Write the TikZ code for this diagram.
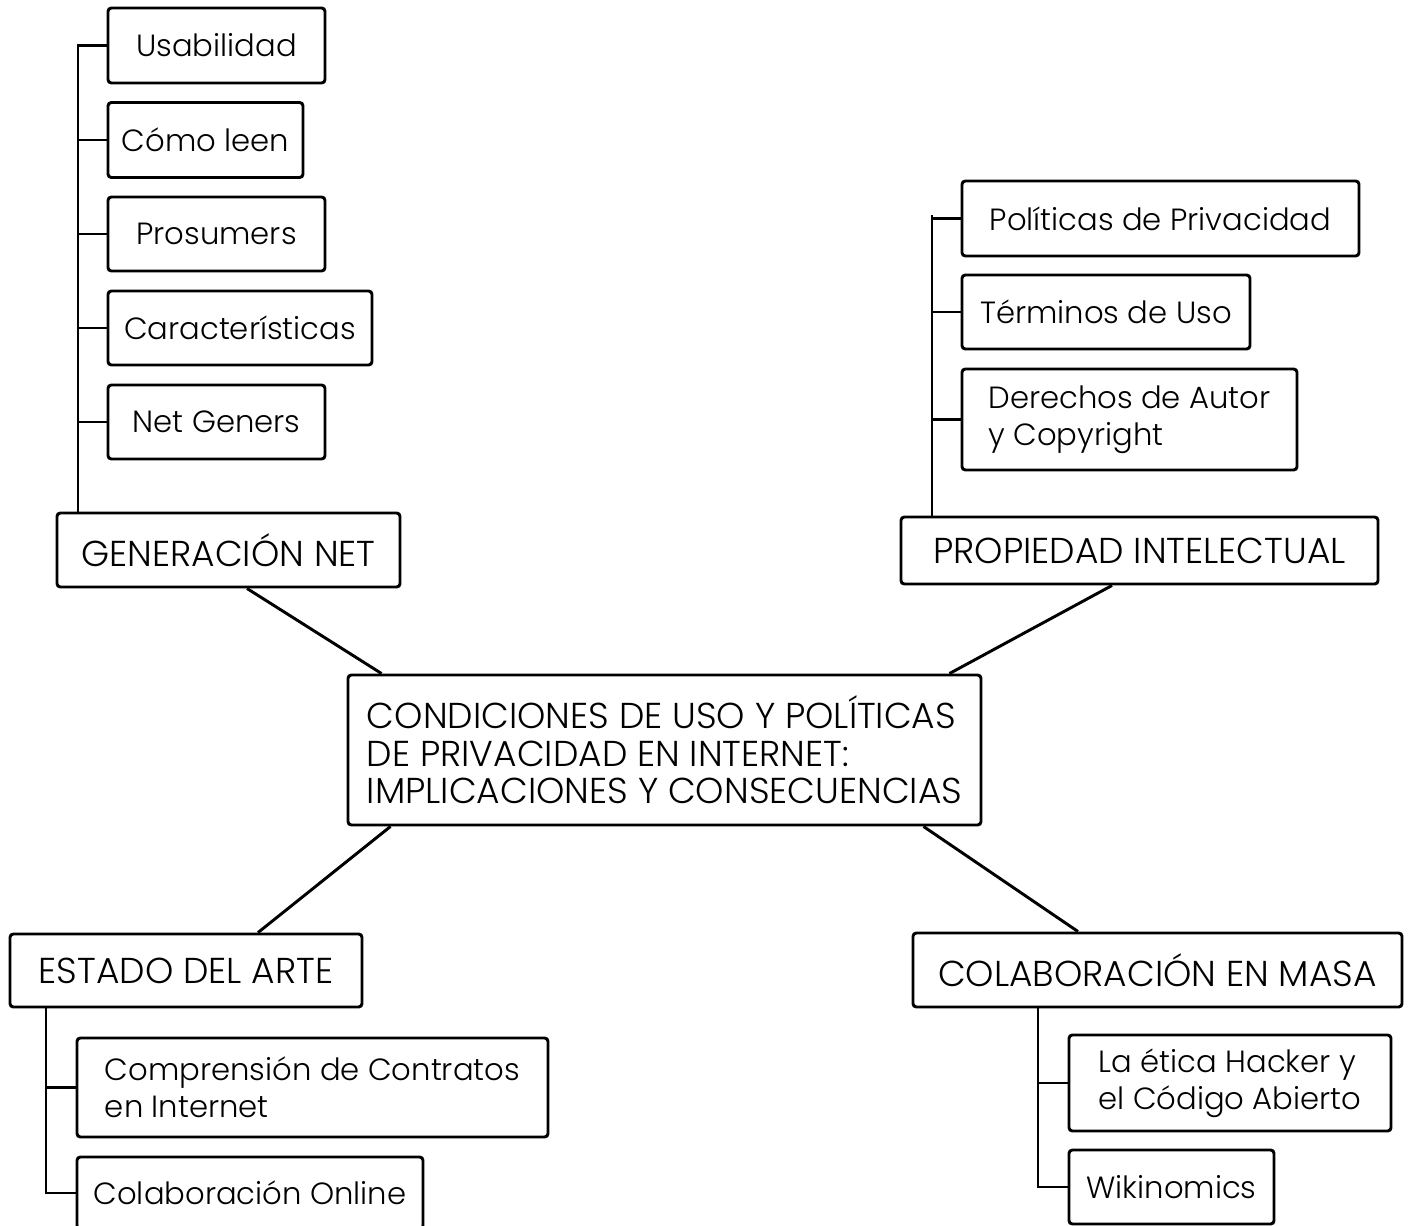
\documentclass[tikz,border=0pt]{standalone}
\usepackage{fontspec}
\setmainfont{Poppins}[UprightFont=* Light]
\usetikzlibrary{calc}

\tikzset{every picture/.style={line width=2.2pt}}
\tikzset{caja/.style 2 args={draw, rounded corners=2.5pt, inner sep=0.75pt, align=left,
  minimum width=#1*0.75pt, minimum height=#2*0.75pt, font=\fontsize{23}{28}\selectfont},
  tema/.style={font=\fontsize{27}{28}\selectfont}}

\begin{document}
\begin{tikzpicture}[x=0.75pt,y=0.75pt,yscale=-1,xscale=1]
        \useasboundingbox (0,0) rectangle (1408,1226);
        %Text Node Center
        \node [caja={633}{150}, tema] (cent) at (664.5,750) {CONDICIONES DE USO Y POLÍTICAS\\DE PRIVACIDAD EN INTERNET:\\IMPLICACIONES Y CONSECUENCIAS};
        % Text Node
        \node [caja={343}{74}, tema] (gen) at (228.5,550) {GENERACIÓN NET};
        % Text Node
        \node [caja={477}{67}, tema] (pi) at (1139.5,550.5) {PROPIEDAD INTELECTUAL};
        % Text Node
        \node [caja={352}{73}, tema] (est) at (186,970.5) {ESTADO DEL ARTE};
        % Text Node
        \node [caja={489}{74}, tema] (masa) at (1157.5,970) {COLABORACIÓN EN MASA};

        % Text Node
        \node [caja={217}{75}] (usab) at (216.5,45.5) {Usabilidad};
        % Text Node
        \node [caja={195}{75}] (como) at (205.5,140) {Cómo leen};
        % Text Node
        \node [caja={217}{74}] (pros) at (216.5,234) {Prosumers};
        % Text Node
        \node [caja={264}{74}] (cara) at (240,328) {Características};
        % Text Node
        \node [caja={217}{74}] (netg) at (216.5,422) {Net Geners};

        % Text Node
        \node [caja={397}{75}] (pol) at (1160.5,218.5) {Políticas de Privacidad};
        % Text Node
        \node [caja={288}{74}] (term) at (1106,312) {Términos de Uso};
        % Text Node
        \node [caja={335}{101}] (dere) at (1129.5,419.5) {Derechos de Autor\\y Copyright};

        % Text Node
        \node [caja={471}{99}] (comp) at (312.5,1087.5) {Comprensión de Contratos\\en Internet};
        % Text Node
        \node [caja={346}{72}] (colon) at (250,1193) {Colaboración Online};

        % Text Node
        \node [caja={322}{96}] (etica) at (1230,1083) {La ética Hacker y\\el Código Abierto};
        % Text Node
        \node [caja={205}{74}] (wiki) at (1171.5,1187) {Wikinomics};

        \coordinate (ejeG) at (78,0);
        \coordinate (ejeP) at (932,0);
        \coordinate (ejeE) at (46,0);
        \coordinate (ejeM) at (1038,0);

        %Straight Lines
        \draw ($(gen.south)+(18.5,0)$) -- ($(cent.north west)+(35,0)$) ;
        %Straight Lines
        \draw ($(pi.south)+(-27.5,0)$) -- ($(cent.north east)+(-33,0)$) ;
        %Straight Lines
        \draw ($(est.north)+(72,0)$) -- ($(cent.south west)+(44,0)$) ;
        %Straight Lines
        \draw ($(masa.north)+(-79.5,0)$) -- ($(cent.south east)+(-59,0)$) ;

        %Branches
        \draw (usab.west) -- (usab.west -| ejeG) -- (ejeG |- gen.north) ;
        \foreach \h in {como,pros,cara,netg}
          \draw (\h.west) -- (\h.west -| ejeG) ;
        \draw ($(pol.west -| ejeP)+(0,-3)$) -- (ejeP |- pi.north) ;
        \foreach \h in {pol,term,dere}
          \draw (\h.west) -- (\h.west -| ejeP) ;
        \draw (ejeE |- est.south) |- (colon.west) ;
        \draw (comp.west) -- (comp.west -| ejeE) ;
        \draw (ejeM |- masa.south) |- (wiki.west) ;
        \draw (etica.west) -- (etica.west -| ejeM) ;
\end{tikzpicture}
\end{document}
